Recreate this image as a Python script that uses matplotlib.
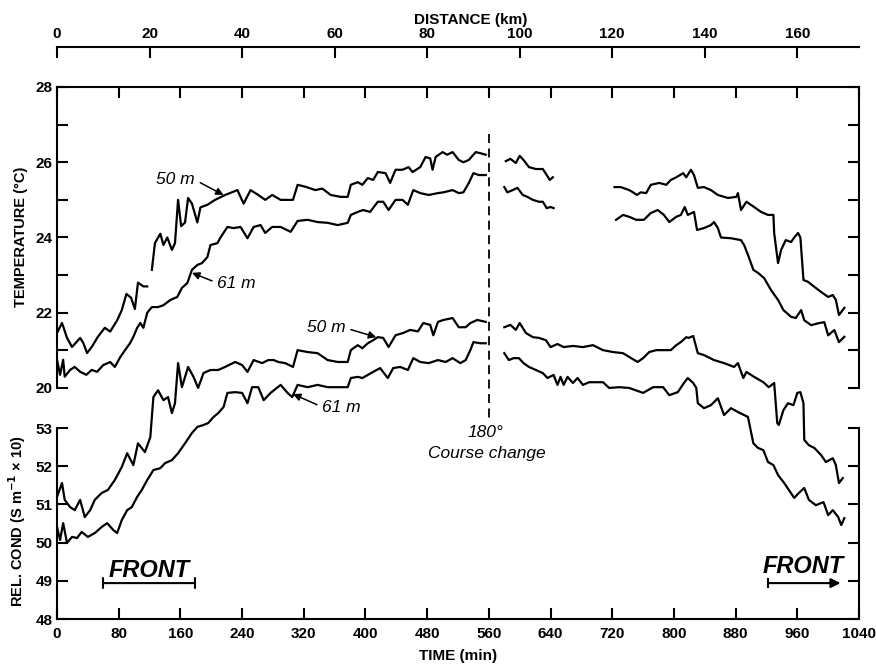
import numpy as np
import matplotlib.pyplot as plt

plt.rcParams['font.family'] = ['Liberation Sans', 'DejaVu Sans']
plt.rcParams['font.weight'] = 'bold'
plt.rcParams['axes.labelweight'] = 'bold'

# time (min), value pairs; each inner list is one unbroken trace
temp_50m = [
    [(0, 21.46), (6.5, 21.73), (13, 21.33), (19.5, 21.09), (30, 21.33), (34, 21.2), (39, 20.93), (45, 21.09),
     (53, 21.36), (62, 21.6), (69, 21.5), (78, 21.8), (84, 22.07), (90, 22.5), (96, 22.4), (101, 22.1),
     (105, 22.8), (112, 22.7), (117, 22.7)],
    [(123, 23.14), (127, 23.85), (134, 24.1), (138, 23.8), (143, 24.0), (149, 23.67), (153, 23.85), (157, 25.0),
     (161, 24.3), (166, 24.4), (170, 25.05), (175, 24.9), (182, 24.4), (186, 24.8), (195, 24.87), (205, 25.0),
     (218, 25.13), (234, 25.26), (242, 24.9), (251, 25.26), (261, 25.13), (270, 25.0), (279, 25.13), (290, 25.0),
     (299, 25.0), (306, 25.0), (312, 25.4), (322, 25.35), (335, 25.26), (344, 25.3), (355, 25.13), (368, 25.08),
     (377, 25.08), (381, 25.4), (390, 25.47), (396, 25.4), (403, 25.58), (410, 25.53), (416, 25.74), (426, 25.71),
     (432, 25.45), (439, 25.8), (448, 25.8), (456, 25.87), (461, 25.74), (471, 25.87), (478, 26.14), (484, 26.1),
     (487, 25.8), (491, 26.14), (500, 26.27), (506, 26.2), (513, 26.27), (521, 26.06), (527, 26.0), (534, 26.06),
     (543, 26.27), (549, 26.24), (556, 26.2)],
    [(582, 26.03), (588, 26.09), (595, 25.98), (600, 26.17), (605, 26.06), (612, 25.87), (621, 25.82), (630, 25.82),
     (635, 25.66), (639, 25.53), (643, 25.6)],
    [(723, 25.34), (731, 25.34), (742, 25.26), (747, 25.2), (752, 25.13), (757, 25.2), (764, 25.18), (770, 25.4),
     (781, 25.45), (790, 25.4), (796, 25.53), (803, 25.6), (812, 25.71), (816, 25.6), (822, 25.8), (826, 25.66),
     (831, 25.32), (839, 25.34), (848, 25.26), (857, 25.13), (870, 25.05), (881, 25.08), (883, 25.18), (887, 24.73),
     (894, 24.95), (904, 24.81), (913, 24.68), (922, 24.6), (929, 24.6), (930, 24.12), (935, 23.32), (939, 23.67),
     (945, 23.93), (952, 23.88), (956, 24.0), (961, 24.12), (964, 24.0), (968, 22.87), (974, 22.82), (982, 22.69),
     (991, 22.55), (1000, 22.42), (1006, 22.47), (1010, 22.34), (1014, 21.94), (1021, 22.13)],
]

temp_61m = [
    [(0, 20.75), (4, 20.35), (8, 20.75), (10, 20.3), (17, 20.48), (23, 20.56), (30, 20.43), (38, 20.35),
     (45, 20.48), (52, 20.43), (60, 20.61), (69, 20.69), (75, 20.56), (82, 20.82), (88, 21.0), (95, 21.2),
     (99, 21.36), (104, 21.6), (108, 21.73), (112, 21.6), (117, 22.0), (123, 22.15), (131, 22.15), (138, 22.2),
     (147, 22.34), (156, 22.42), (162, 22.66), (169, 22.79), (175, 23.14), (182, 23.27), (188, 23.32), (195, 23.48),
     (199, 23.8), (208, 23.85), (212, 24.0), (221, 24.28), (229, 24.25), (238, 24.28), (247, 23.98), (255, 24.28),
     (264, 24.33), (270, 24.12), (279, 24.28), (290, 24.28), (303, 24.15), (312, 24.44), (325, 24.47), (338, 24.41),
     (351, 24.39), (364, 24.33), (377, 24.39), (381, 24.6), (390, 24.68), (397, 24.73), (406, 24.68), (416, 24.95),
     (423, 24.95), (430, 24.73), (439, 25.0), (448, 25.0), (455, 24.87), (462, 25.26), (471, 25.18), (482, 25.13),
     (494, 25.18), (501, 25.2), (513, 25.26), (521, 25.18), (527, 25.2), (534, 25.45), (540, 25.71), (547, 25.66),
     (556, 25.66)],
    [(580, 25.34), (584, 25.2), (591, 25.26), (597, 25.32), (604, 25.13), (610, 25.08), (617, 25.0), (625, 24.95),
     (630, 24.95), (635, 24.78), (640, 24.81), (644, 24.78)],
    [(725, 24.47), (734, 24.6), (742, 24.55), (751, 24.47), (761, 24.47), (770, 24.65), (779, 24.73), (787, 24.6),
     (794, 24.41), (803, 24.55), (809, 24.6), (814, 24.81), (818, 24.6), (826, 24.68), (830, 24.2), (839, 24.25),
     (848, 24.33), (852, 24.41), (857, 24.25), (861, 24.0), (874, 23.98), (887, 23.93), (891, 23.8), (896, 23.54),
     (903, 23.14), (909, 23.06), (917, 22.92), (926, 22.6), (935, 22.34), (942, 22.07), (952, 21.89), (958, 21.86),
     (965, 22.07), (969, 21.8), (978, 21.67), (987, 21.72), (995, 21.75), (1000, 21.4), (1008, 21.54), (1014, 21.22),
     (1021, 21.36)],
]

cond_50m = [
    [(0, 51.2), (6.5, 51.56), (10, 51.12), (17, 50.93), (23, 50.85), (30, 51.12), (36, 50.67), (43, 50.85),
     (49, 51.12), (58, 51.3), (66, 51.38), (75, 51.64), (84, 51.98), (91, 52.34), (99, 52.03), (105, 52.6),
     (114, 52.37), (121, 52.76), (125, 53.81), (131, 53.99), (138, 53.73), (144, 53.81), (149, 53.39), (153, 53.65),
     (157, 54.7), (162, 54.07), (170, 54.6), (177, 54.34), (183, 54.05), (190, 54.44), (199, 54.52), (209, 54.52),
     (218, 54.6), (231, 54.73), (240, 54.65), (247, 54.47), (255, 54.78), (266, 54.7), (274, 54.78), (281, 54.78),
     (287, 54.73), (296, 54.7), (306, 54.6), (312, 55.04), (325, 54.99), (338, 54.96), (351, 54.78), (364, 54.73),
     (377, 54.73), (381, 55.04), (390, 55.17), (396, 55.09), (403, 55.22), (410, 55.3), (416, 55.38), (423, 55.36),
     (430, 55.12), (439, 55.43), (449, 55.49), (458, 55.57), (468, 55.53), (475, 55.75), (484, 55.7), (488, 55.43),
     (494, 55.78), (501, 55.83), (513, 55.88), (521, 55.64), (530, 55.64), (536, 55.75), (545, 55.83), (556, 55.78)],
    [(580, 55.64), (588, 55.7), (595, 55.57), (600, 55.75), (608, 55.49), (617, 55.38), (625, 55.36), (634, 55.3),
     (640, 55.12), (649, 55.2), (657, 55.12), (669, 55.15), (682, 55.12), (695, 55.17), (708, 55.04), (721, 54.99),
     (734, 54.96), (747, 54.8), (753, 54.73), (760, 54.83), (768, 54.99), (777, 55.04), (786, 55.04), (796, 55.04),
     (803, 55.17), (809, 55.25), (816, 55.38), (819, 55.36), (825, 55.41), (831, 54.96), (839, 54.91), (852, 54.78),
     (865, 54.7), (878, 54.6), (883, 54.7), (890, 54.31), (894, 54.47), (904, 54.34), (916, 54.2), (923, 54.07),
     (930, 54.18), (934, 53.13), (936, 53.08), (942, 53.47), (948, 53.65), (955, 53.6), (960, 53.92), (964, 53.94),
     (968, 53.65), (969, 52.69), (975, 52.55), (982, 52.48), (991, 52.29), (997, 52.11), (1006, 52.21), (1010, 52.03),
     (1014, 51.56), (1019, 51.69)],
]

cond_61m = [
    [(0, 50.41), (4, 50.07), (8, 50.51), (13, 49.99), (19.5, 50.15), (26, 50.12), (32, 50.28), (40, 50.15),
     (49, 50.25), (58, 50.41), (65, 50.51), (73, 50.33), (78, 50.25), (84, 50.59), (91, 50.85), (97, 50.93),
     (104, 51.2), (110, 51.38), (117, 51.64), (125, 51.9), (134, 51.95), (140, 52.08), (149, 52.16), (157, 52.34),
     (166, 52.6), (175, 52.87), (182, 53.03), (190, 53.08), (196, 53.13), (203, 53.29), (209, 53.39), (216, 53.55),
     (221, 53.92), (231, 53.94), (240, 53.92), (247, 53.65), (253, 54.07), (261, 54.07), (268, 53.73), (277, 53.92),
     (290, 54.13), (299, 53.92), (305, 53.81), (312, 54.13), (325, 54.07), (338, 54.13), (351, 54.07), (364, 54.07),
     (377, 54.07), (381, 54.31), (390, 54.34), (396, 54.31), (403, 54.39), (410, 54.47), (419, 54.57), (429, 54.31),
     (436, 54.57), (445, 54.6), (455, 54.52), (462, 54.83), (471, 54.73), (482, 54.7), (494, 54.78), (504, 54.73),
     (513, 54.83), (523, 54.7), (530, 54.78), (536, 55.04), (540, 55.25), (549, 55.22), (556, 55.22)],
    [(580, 54.96), (586, 54.78), (592, 54.83), (599, 54.83), (605, 54.7), (612, 54.6), (621, 54.52), (630, 54.44),
     (636, 54.31), (644, 54.39), (649, 54.13), (653, 54.34), (657, 54.13), (662, 54.34), (669, 54.18), (675, 54.31),
     (682, 54.13), (690, 54.2), (699, 54.2), (708, 54.2), (716, 54.05), (729, 54.07), (742, 54.05), (760, 53.92),
     (773, 54.07), (786, 54.07), (794, 53.86), (805, 53.94), (813, 54.18), (818, 54.31), (825, 54.18), (829, 54.05),
     (831, 53.65), (839, 53.52), (848, 53.6), (857, 53.78), (865, 53.34), (874, 53.52), (883, 53.42), (891, 53.34),
     (896, 53.29), (903, 52.6), (909, 52.48), (916, 52.42), (922, 52.11), (929, 52.03), (935, 51.77), (943, 51.56),
     (949, 51.38), (956, 51.17), (962, 51.3), (969, 51.43), (975, 51.12), (984, 50.98), (994, 51.06), (1000, 50.72),
     (1006, 50.85), (1013, 50.67), (1017, 50.46), (1021, 50.64)],
]

time_ticks = list(range(0, 1041, 80))
dist_ticks = list(range(0, 161, 20))
temp_ticks = list(range(20, 29))
cond_ticks = list(range(48, 54))
course_change_min = 560
front_left = (60, 179)
front_right = (922, 1016)

fig = plt.figure(figsize=(8.76, 6.67), dpi=100)
ax = fig.add_axes([57 / 876, 48 / 667, 802 / 876, 532 / 667])
ax2 = ax.twinx()

def draw(a, segments):
    for seg in segments:
        t, v = zip(*seg)
        a.plot(t, v, color='k', lw=1.6, solid_joinstyle='round')

draw(ax, temp_50m)
draw(ax, temp_61m)
draw(ax2, cond_50m)
draw(ax2, cond_61m)

ax.set_xlim(0, 1040)
ax.set_ylim(13.86, 28)
ax2.set_ylim(48, 61.93)

# spines
for s in ['left', 'right']:
    ax.spines[s].set_bounds(20, 28)
    ax2.spines[s].set_bounds(48, 53)
ax2.spines['top'].set_visible(False)
ax2.spines['bottom'].set_visible(False)
for a in (ax, ax2):
    for sp in a.spines.values():
        sp.set_linewidth(1.5)

ax.set_xticks(time_ticks)
ax.set_yticks(temp_ticks)
ax.set_yticklabels([str(v) if v % 2 == 0 else '' for v in temp_ticks])
ax2.set_yticks(cond_ticks)
ax.tick_params(axis='x', direction='in', top=True, bottom=True, length=8, width=1.5, labelsize=11, pad=6)
ax.tick_params(axis='y', direction='in', left=True, right=True, labelleft=True, labelright=False,
               length=8, width=1.5, labelsize=11, pad=3)
ax2.tick_params(axis='y', direction='in', left=True, right=True, labelleft=True, labelright=False,
                length=8, width=1.5, labelsize=11, pad=3)

ax.set_ylabel('TEMPERATURE (°C)', fontsize=10.5)
ax.yaxis.set_label_coords(-0.036, 0.718)
ax2.set_ylabel(r'REL. COND (S m$^{\mathbf{-1}}$ × 10)', fontsize=10.5)
ax2.yaxis.set_label_position('left')
ax2.yaxis.set_label_coords(-0.036, 0.184)
ax.set_xlabel('TIME (min)', fontsize=11)
ax.xaxis.set_label_coords(0.5, -0.056)

# distance axis above the box
sec = ax.secondary_xaxis(1 + 40 / 532, functions=(lambda t: t / 6, lambda d: d * 6))
sec.set_xticks(dist_ticks)
sec.tick_params(direction='in', length=8, width=1.5, labelsize=11, pad=4)
sec.spines['top'].set_linewidth(1.5)
fig.text(471 / 876, 1 - 20 / 667, 'DISTANCE (km)', ha='center', va='center', fontsize=11)

# course change
ax.plot([course_change_min, course_change_min], [26.75, 19.2], color='k', lw=1.3, dashes=(5, 3))
ax.text(556, 18.83, '180°', ha='center', va='center', fontsize=12.5, style='italic', fontweight='normal')
ax.text(558, 18.27, 'Course change', ha='center', va='center', fontsize=12.5, style='italic',
        fontweight='normal')

arrow = dict(arrowstyle='-|>', color='k', lw=1.1, mutation_scale=11, shrinkA=2, shrinkB=0)
ax.annotate('50 m', xy=(216, 25.13), xytext=(179, 25.53), ha='right', va='center', fontsize=12.5,
            style='italic', fontweight='normal', arrowprops=dict(arrow, relpos=(1, 0.5)))
ax.annotate('61 m', xy=(175, 23.06), xytext=(208, 22.79), ha='left', va='center', fontsize=12.5,
            style='italic', fontweight='normal', arrowprops=dict(arrow, relpos=(0, 0.5)))
ax2.annotate('50 m', xy=(414, 55.38), xytext=(374, 55.62), ha='right', va='center', fontsize=12.5,
             style='italic', fontweight='normal', arrowprops=dict(arrow, relpos=(1, 0.5)))
ax2.annotate('61 m', xy=(306, 53.89), xytext=(344, 53.55), ha='left', va='center', fontsize=12.5,
             style='italic', fontweight='normal', arrowprops=dict(arrow, relpos=(0, 0.5)))

# front markers
ax2.text(sum(front_left) / 2, 49.1, 'FRONT', ha='center', va='baseline', fontsize=17, style='italic')
ax2.annotate('', xy=(front_left[1], 48.94), xytext=(front_left[0], 48.94),
             arrowprops=dict(arrowstyle='|-|,widthA=0.35,widthB=0.35', color='k', lw=1.5,
                             shrinkA=0, shrinkB=0))
ax2.text(968, 49.2, 'FRONT', ha='center', va='baseline', fontsize=17, style='italic')
ax2.annotate('', xy=(front_right[1], 48.94), xytext=(front_right[0], 48.94),
             arrowprops=dict(arrowstyle='-|>', color='k', lw=1.5, mutation_scale=14, shrinkA=0, shrinkB=0))
ax2.plot([front_right[0]], [48.94], marker='|', ms=7, mew=1.5, color='k')

fig.savefig('out.png', dpi=100)
